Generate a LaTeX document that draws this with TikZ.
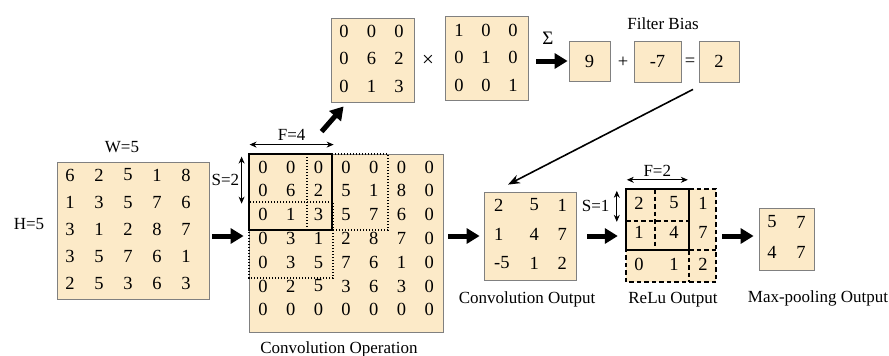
\documentclass[tikz,border=0pt]{standalone}
\usepackage{fontspec}
\setmainfont{Liberation Serif}
\usetikzlibrary{arrows.meta,calc}
\definecolor{cellfill}{RGB}{252,234,200}
\definecolor{cellline}{RGB}{128,128,128}
\tikzset{
  mbox/.style={draw=cellline,fill=cellfill,line width=0.8pt,inner sep=0pt},
  num/.style={inner sep=0pt,font=\fontsize{18.5}{21}\selectfont},
  lbl/.style={inner sep=0pt,anchor=base,font=\fontsize{17}{20}\selectfont},
  bigarrow/.style={line width=5pt,-{Triangle[length=13pt,width=15pt]}},
  thinarrow/.style={line width=1.6pt,-{Stealth[length=12pt,width=9pt]}},
  dimarrow/.style={line width=0.8pt,{Stealth[length=7pt,width=6pt]}-{Stealth[length=7pt,width=6pt]}},
  window/.style={line width=1.8pt},
  dotwin/.style={line width=1.4pt,dash pattern=on 1.4pt off 1.6pt},
  dashwin/.style={line width=1.4pt,dash pattern=on 4.5pt off 3pt},
}
\begin{document}
\begin{tikzpicture}[x=1pt,y=-1pt]
\useasboundingbox (0,0) rectangle (889,356);
\node[mbox,minimum width=152pt,minimum height=137pt] (inp) at (133,230.5) {};
\node[mbox,minimum width=194pt,minimum height=178pt] (pad) at (346,243) {};
\node[mbox,minimum width=83pt,minimum height=84pt] (fa) at (372.5,60) {};
\node[mbox,minimum width=83pt,minimum height=84pt] (fb) at (486.5,58) {};
\node[mbox,minimum width=41pt,minimum height=40pt] (s9) at (589.5,61) {};
\node[mbox,minimum width=47pt,minimum height=41pt] (bias) at (657.5,61.5) {};
\node[mbox,minimum width=40pt,minimum height=41pt] (res) at (719,61.5) {};
\node[mbox,minimum width=92pt,minimum height=88pt] (cout) at (530,236) {};
\node[fill=cellfill,inner sep=0pt,minimum width=90pt,minimum height=93pt] (relu) at (671,235.5) {};
\node[mbox,minimum width=55pt,minimum height=62pt] (pool) at (786.5,239) {};

\foreach \row [count=\r] in {{6,2,5,1,8},{1,3,5,7,6},{3,1,2,8,7},{3,5,7,6,1},{2,5,3,6,3}}
  \foreach \v [count=\c] in \row
    \node[num] (in-\r-\c) at ({70+29*(\c-1)},{175+27.2*(\r-1)}) {\v};
\foreach \row [count=\r] in {{0,0,0,0,0,0,0},{0,6,2,5,1,8,0},{0,1,3,5,7,6,0},{0,3,1,2,8,7,0},{0,3,5,7,6,1,0},{0,2,5,3,6,3,0},{0,0,0,0,0,0,0}}
  \foreach \v [count=\c] in \row
    \node[num] (pd-\r-\c) at ({263+27.7*(\c-1)},{167+23.8*(\r-1)}) {\v};
\foreach \row [count=\r] in {{0,0,0},{0,6,2},{0,1,3}}
  \foreach \v [count=\c] in \row
    \node[num] (fa-\r-\c) at ({344+27.5*(\c-1)},{31+27.5*(\r-1)}) {\v};
\foreach \row [count=\r] in {{1,0,0},{0,1,0},{0,0,1}}
  \foreach \v [count=\c] in \row
    \node[num] (fb-\r-\c) at ({459+27*(\c-1)},{30+27.5*(\r-1)}) {\v};
\foreach \row [count=\r] in {{2,5,1},{1,4,7},{-5,1,2}}
  \foreach \v [count=\c] in \row
    \node[num,anchor=west] (co-\r-\c) at ({494+(\c==2)*35.5+(\c==3)*63.5},{205+29*(\r-1)}) {\v};
\foreach \row [count=\r] in {{2,5,1},{1,4,7},{0,1,2}}
  \foreach \v [count=\c] in \row
    \node[num] (re-\r-\c) at ({639+(\c==2)*35+(\c==3)*64},{203+(\r==2)*29+(\r==3)*61}) {\v};
\foreach \row [count=\r] in {{5,7},{4,7}}
  \foreach \v [count=\c] in \row
    \node[num] (po-\r-\c) at ({772+29*(\c-1)},{222+30*(\r-1)}) {\v};

\node[num] (s9v) at (s9) {9};
\node[num] (biasv) at (bias) {-7};
\node[num] (resv) at (res) {2};
\node[num,font=\fontsize{21}{24}\selectfont] (times) at (428,61) {×};
\node[num] (plus) at (623,62) {+};
\node[num] (equal) at (690,62) {=};
\node[num,font=\fontsize{19}{22}\selectfont] (sigma) at (548,38) {Σ};

\node[lbl] (tw) at (122,152) {W=5};
\node[lbl] (th) at (29,229) {H=5};
\node[lbl] (tbias) at (663,29) {Filter Bias};
\node[lbl] (tconv) at (339,353) {Convolution Operation};
\node[lbl] (tcout) at (527,303) {Convolution Output};
\node[lbl] (trelu) at (673,303) {ReLu Output};
\node[lbl] (tpool) at (818,302) {Max-pooling Output};

\draw[dotwin] (307,154) rectangle (388,230);
\draw[dotwin] (249,202) rectangle (333,278);
\draw[window] (249,154) rectangle (332,230);

\draw[dashwin] (655,189) -- (655,250);
\draw[dashwin] (626,221) -- (689,221);
\draw[dashwin] (689,189) -- (716,189) -- (716,282) -- (626,282) -- (626,250);
\draw[dashwin] (689,250) -- (716,250);
\draw[dashwin] (689,250) -- (689,282);
\draw[window] (626,189) rectangle (689,250);

\draw[bigarrow,shorten <=3pt,shorten >=5pt] (inp.east |- cout) -- (pad.west |- cout);
\draw[bigarrow,shorten <=5pt,shorten >=4pt] (pad.east |- cout) -- (cout.west);
\draw[bigarrow,shorten <=11pt,shorten >=8pt] (cout.east) -- (relu.west |- cout);
\draw[bigarrow,shorten <=6pt,shorten >=5pt] (relu.east |- cout) -- (pool.west |- cout);
\draw[bigarrow] ($(pad.north west)+(73,-22)$) -- ($(fa.south west)+(13,4)$);
\draw[bigarrow,shorten <=8pt,shorten >=1pt] (fb.east |- s9) -- (s9.west);
\draw[thinarrow] ($(res.south)+(-26,7)$) -- ($(cout.north)+(-22,-7)$);

\draw[dimarrow] ($(pad.north west)+(1,-9)$) -- ($(pad.north west)+(85,-9)$) node[num,midway,above=4pt,font=\fontsize{17}{20}\selectfont] (tf4) {F=4};
\draw[dimarrow] ($(pad.north west)+(-7,3)$) -- ($(pad.north west)+(-7,50)$) node[num,midway,left=2pt,font=\fontsize{17}{20}\selectfont] (ts2) {S=2};
\draw[dimarrow] ($(relu.north west)+(1,-9)$) -- ($(relu.north west)+(62,-9)$) node[num,midway,above=3pt,font=\fontsize{17}{20}\selectfont] (tf2) {F=2};
\draw[dimarrow] ($(relu.north west)+(-9,2)$) -- ($(relu.north west)+(-9,33)$) node[num,midway,left=7pt,font=\fontsize{17}{20}\selectfont] (ts1) {S=1};
\end{tikzpicture}
\end{document}
